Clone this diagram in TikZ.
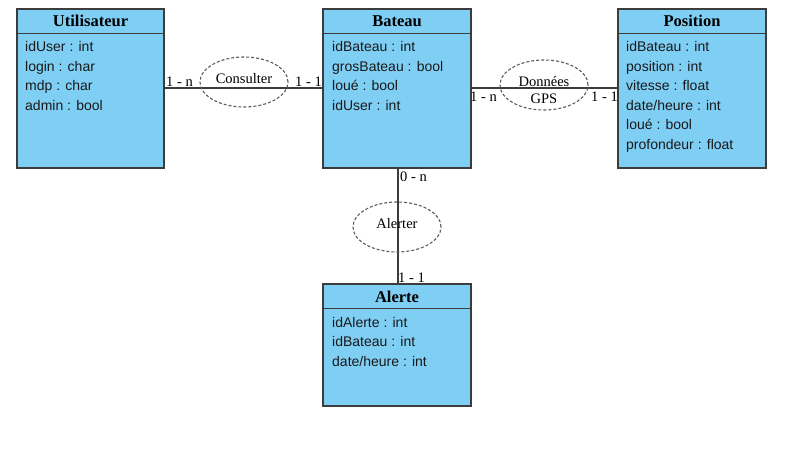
\documentclass[tikz,border=0pt]{standalone}
\usepackage{fontspec}
\setmainfont{Liberation Serif}
\newfontfamily\attrfont{Liberation Sans}
\usetikzlibrary{shapes.geometric}
\definecolor{boxblue}{RGB}{127,207,245}
\definecolor{edgegray}{RGB}{60,60,60}
\definecolor{dashgray}{RGB}{90,90,90}
\tikzset{
  classbox/.style={draw=edgegray, line width=1.3pt, fill=boxblue, rectangle, inner sep=0pt},
  classtitle/.style={anchor=base, font=\fontsize{16.5}{18}\selectfont\bfseries, inner sep=0pt},
  attr/.style={anchor=base west, font=\attrfont\fontsize{14}{16}\selectfont, inner sep=0pt, text=black!90},
  assoc/.style={draw=dashgray, dash pattern=on 3pt off 2pt, line width=1.1pt, ellipse, minimum width=88pt, minimum height=50pt, inner sep=0pt},
  assoctext/.style={font=\fontsize{14.5}{16}\selectfont, inner sep=0pt},
  card/.style={font=\fontsize{14.5}{16}\selectfont, inner sep=0pt},
  link/.style={draw=edgegray, line width=1.6pt},
  divider/.style={draw=edgegray, line width=1.3pt}
}
\begin{document}
\begin{tikzpicture}[x=1pt,y=-1pt]
\useasboundingbox (0,0) rectangle (801,449);
% classes
\node[classbox, minimum width=147pt, minimum height=159pt] (u) at (90.5,88.5) {};
\node[classbox, minimum width=148pt, minimum height=159pt] (b) at (397,88.5) {};
\node[classbox, minimum width=148pt, minimum height=159pt] (p) at (692,88.5) {};
\node[classbox, minimum width=148pt, minimum height=122pt] (a) at (397,345) {};
% dividers
\draw[divider] (u.north west) ++(0,25) coordinate (ud1) -- (ud1 -| u.east);
\draw[divider] (b.north west) ++(0,25) coordinate (bd1) -- (bd1 -| b.east);
\draw[divider] (p.north west) ++(0,25) coordinate (pd1) -- (pd1 -| p.east);
\draw[divider] (a.north west) ++(0,25) coordinate (ad1) -- (ad1 -| a.east);
% titles
\node[classtitle] (ut) at (90.5,27) {Utilisateur};
\node[classtitle] (bt) at (397,27) {Bateau};
\node[classtitle] (pt) at (692,27) {Position};
\node[classtitle] (at) at (397,302) {Alerte};
% attributes
\node[attr] (u1) at (25,52) {idUser : int};
\node[attr] (u2) at (25,71.5) {login : char};
\node[attr] (u3) at (25,91) {mdp : char};
\node[attr] (u4) at (25,110.5) {admin : bool};
\node[attr] (b1) at (332,52) {idBateau : int};
\node[attr] (b2) at (332,71.5) {grosBateau : bool};
\node[attr] (b3) at (332,91) {loué : bool};
\node[attr] (b4) at (332,110.5) {idUser : int};
\node[attr] (p1) at (626,52) {idBateau : int};
\node[attr] (p2) at (626,71.5) {position : int};
\node[attr] (p3) at (626,91) {vitesse : float};
\node[attr] (p4) at (626,110.5) {date/heure : int};
\node[attr] (p5) at (626,130) {loué : bool};
\node[attr] (p6) at (626,149.5) {profondeur : float};
\node[attr] (a1) at (332,327) {idAlerte : int};
\node[attr] (a2) at (332,346.5) {idBateau : int};
\node[attr] (a3) at (332,366) {date/heure : int};
% connectors
\coordinate (ue) at (u.east |- 0,88);
\coordinate (bw) at (b.west |- 0,88);
\coordinate (be) at (b.east |- 0,88);
\coordinate (pw) at (p.west |- 0,88);
\coordinate (bs) at (398,168);
\coordinate (an) at (398,284);
\draw[link] (ue) -- (bw);
\draw[link] (be) -- (pw);
\draw[link] (bs) -- (an);
% associations
\node[assoc] (c) at (244,82) {};
\node[assoctext] (ct) at (244,79) {Consulter};
\node[assoc] (g) at (544,85) {};
\node[assoctext, align=center] (gt) at (544,90) {Données\\[1pt]GPS};
\node[assoc] (al) at (397,227) {};
\node[assoctext] (alt) at (397,224) {Alerter};
% cardinalities
\node[card, anchor=base west] (k1) at (166,87) {1 - n};
\node[card, anchor=base east] (k2) at (322,87) {1 - 1};
\node[card, anchor=base west] (k3) at (470,102) {1 - n};
\node[card, anchor=base east] (k4) at (618,102) {1 - 1};
\node[card, anchor=base west] (k5) at (400,182) {0 - n};
\node[card, anchor=base west] (k6) at (398,283) {1 - 1};
\end{tikzpicture}
\end{document}
